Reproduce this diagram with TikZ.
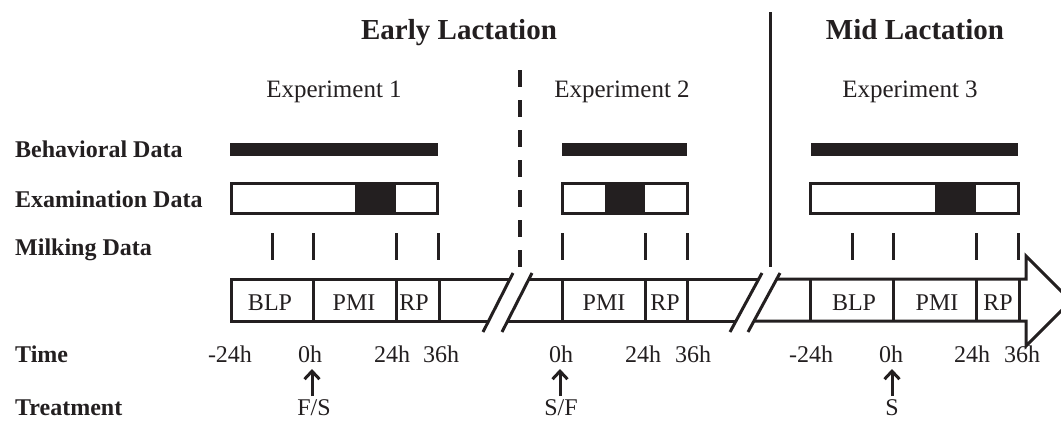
\documentclass[tikz,border=0pt]{standalone}
\usepackage{fontspec}
\setmainfont{Liberation Serif}
\usetikzlibrary{arrows.meta}
\definecolor{ink}{RGB}{35,31,32}
\begin{document}
\begin{tikzpicture}[x=1pt,y=-1pt,
  lbl/.style={anchor=base west, font=\fontsize{24}{26}\selectfont\bfseries, inner sep=0, text=ink},
  ttl/.style={anchor=base, font=\fontsize{29}{31}\selectfont\bfseries, inner sep=0, text=ink},
  expt/.style={anchor=base, font=\fontsize{25}{27}\selectfont, inner sep=0, text=ink},
  txt/.style={anchor=base, font=\fontsize{24}{26}\selectfont, inner sep=0, text=ink},
  bar/.style={fill=ink},
  exbox/.style={draw=ink, line width=3pt},
  mtick/.style={draw=ink, line width=3pt},
  band/.style={draw=ink, line width=3pt, line join=miter},
  slash/.style={draw=ink, line width=3pt},
  trt/.style={draw=ink, line width=3pt, -{Straight Barb[length=8pt,width=15pt,line width=3pt]}}
]
\useasboundingbox (0,0) rectangle (1061,421);

% titles
\node[ttl] (early) at (459,39) {Early Lactation};
\node[ttl] (mid) at (915,39) {Mid Lactation};
\node[expt] (e1) at (334,97) {Experiment 1};
\node[expt] (e2) at (622,97) {Experiment 2};
\node[expt] (e3) at (910,97) {Experiment 3};

% separators
\draw[ink, line width=3.5pt, dash pattern=on 17pt off 13pt] (520,70) -- (520,267);
\draw[ink, line width=3pt] (770,12) -- (770,267);

% row labels
\node[lbl] (lbeh) at (15,157) {Behavioral Data};
\node[lbl] (lexa) at (15,207) {Examination Data};
\node[lbl] (lmil) at (15,255) {Milking Data};
\node[lbl] (ltim) at (15,362) {Time};
\node[lbl] (ltrt) at (15,415) {Treatment};

% behavioral bars
\fill[bar] (230,143) rectangle (438,156);
\fill[bar] (562,143) rectangle (687,156);
\fill[bar] (811,143) rectangle (1018,156);

% examination boxes
\fill[bar] (355,182) rectangle (396,215);
\draw[exbox] (231,183.5) rectangle (437,213.5);
\fill[bar] (605,182) rectangle (645,215);
\draw[exbox] (562,183.5) rectangle (687,213.5);
\fill[bar] (935,182) rectangle (976,215);
\draw[exbox] (810,183.5) rectangle (1018,213.5);

% milking ticks
\foreach \x in {272,313,396,438,562,645,687,852,893,976,1018}
  \draw[mtick] (\x,233) -- (\x,260);

% time band
\draw[band] (509.9,279) -- (231,279) -- (231,321) -- (488.6,321);
\draw[band] (528.9,279) -- (758.7,279);
\draw[band] (507.6,321) -- (736,321);
\draw[band] (776.7,279) -- (1026,279) -- (1026,256) -- (1071,301) -- (1026,346) -- (1026,321) -- (754,321);
\draw[slash] (483,332) -- (513,273);
\draw[slash] (502,332) -- (532,273);
\draw[slash] (730,332) -- (762,273);
\draw[slash] (748,332) -- (780,273);
\foreach \x in {313,396,439,562,645,687,810,893,976,1019}
  \draw[mtick] (\x,279) -- (\x,321);

% band labels
\node[txt] (blp1) at (270,310) {BLP};
\node[txt] (pmi1) at (354,310) {PMI};
\node[txt] (rp1) at (414,310) {RP};
\node[txt] (pmi2) at (604,310) {PMI};
\node[txt] (rp2) at (665,310) {RP};
\node[txt] (blp3) at (854,310) {BLP};
\node[txt] (pmi3) at (937,310) {PMI};
\node[txt] (rp3) at (998,310) {RP};

% time values
\node[txt] (ta1) at (230,362) {-24h};
\node[txt] (tb1) at (310,362) {0h};
\node[txt] (tc1) at (392,362) {24h};
\node[txt] (td1) at (441,362) {36h};
\node[txt] (tb2) at (561,362) {0h};
\node[txt] (tc2) at (643,362) {24h};
\node[txt] (td2) at (693,362) {36h};
\node[txt] (ta3) at (811,362) {-24h};
\node[txt] (tb3) at (891,362) {0h};
\node[txt] (tc3) at (972,362) {24h};
\node[txt] (td3) at (1022,362) {36h};

% treatments
\node[txt] (fs) at (314,415) {F/S};
\node[txt] (sf) at (561,415) {S/F};
\node[txt] (s) at (892,415) {S};
\coordinate (a1s) at (312,396); \coordinate (a1e) at (312,369);
\coordinate (a2s) at (560,396); \coordinate (a2e) at (560,369);
\coordinate (a3s) at (892,396); \coordinate (a3e) at (892,369);
\draw[trt] (a1s) -- (a1e);
\draw[trt] (a2s) -- (a2e);
\draw[trt] (a3s) -- (a3e);
\end{tikzpicture}
\end{document}
